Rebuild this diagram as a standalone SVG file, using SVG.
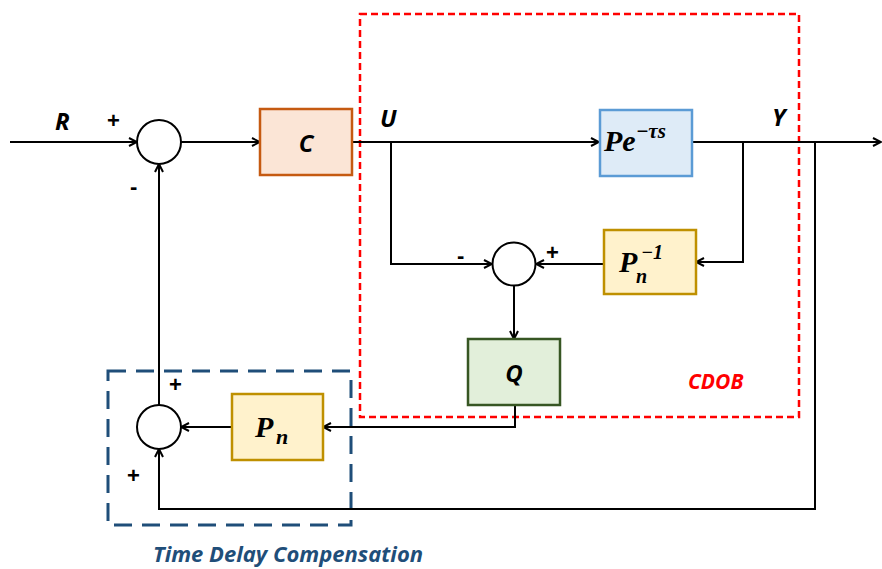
<svg xmlns="http://www.w3.org/2000/svg" width="882" height="569" viewBox="0 0 882 569">
<style>
.ln{fill:none;stroke:#000;stroke-width:2}
.sum{fill:#fff;stroke:#000;stroke-width:2}
.lbl{font-family:"Open Sans","Liberation Sans",sans-serif;font-weight:bold;font-style:italic;font-size:24px;fill:#000}
.sgn{font-family:"Liberation Sans",sans-serif;font-weight:bold;font-size:22px;fill:#000}
.math{font-family:"Liberation Serif","DejaVu Serif",serif;font-weight:bold;font-style:italic;fill:#000}
</style>
<defs>
<marker id="ar" markerWidth="10" markerHeight="10" refX="9" refY="5" orient="auto" markerUnits="userSpaceOnUse">
<path d="M1,1 L9,5 L1,9" fill="none" stroke="#000" stroke-width="2"/>
</marker>
</defs>
<g id="cdob-frame">
<rect x="360" y="14" width="439" height="403" fill="none" stroke="#ff0000" stroke-width="2.5" stroke-dasharray="7,4"/>
<text x="688" y="389" font-family="Open Sans,Liberation Sans,sans-serif" font-weight="bold" font-style="italic" font-size="21" fill="#ff0000">CDOB</text>
</g>
<g id="tdc-frame">
<rect x="108" y="371" width="243" height="154" fill="none" stroke="#1f4e79" stroke-width="3" stroke-dasharray="18,10"/>
<text x="153" y="562" font-family="Open Sans,Liberation Sans,sans-serif" font-weight="bold" font-style="italic" font-size="22" fill="#1f4e79">Time Delay Compensation</text>
</g>
<g id="connectors">
<line class="ln" x1="10" y1="142" x2="137" y2="142" marker-end="url(#ar)"/>
<line class="ln" x1="181" y1="142" x2="260" y2="142" marker-end="url(#ar)"/>
<line class="ln" x1="352" y1="142" x2="599" y2="142" marker-end="url(#ar)"/>
<line class="ln" x1="692" y1="142" x2="881" y2="142" marker-end="url(#ar)"/>
<polyline class="ln" points="391,142 391,264 492,264" marker-end="url(#ar)"/>
<polyline class="ln" points="743,142 743,262 696,262" marker-end="url(#ar)"/>
<line class="ln" x1="604" y1="264" x2="536" y2="264" marker-end="url(#ar)"/>
<line class="ln" x1="514" y1="286" x2="514" y2="339" marker-end="url(#ar)"/>
<polyline class="ln" points="515,405 515,427 323,427" marker-end="url(#ar)"/>
<line class="ln" x1="232" y1="427" x2="181" y2="427" marker-end="url(#ar)"/>
<line class="ln" x1="159" y1="405" x2="159" y2="164" marker-end="url(#ar)"/>
<polyline class="ln" points="815,142 815,509 159,509 159,449" marker-end="url(#ar)"/>
</g>
<g id="sum1">
<circle class="sum" cx="159" cy="142" r="22"/>
<text class="sgn" x="107" y="128">+</text>
<text class="sgn" x="130" y="194">-</text>
</g>
<g id="C">
<rect x="260" y="109" width="92" height="66" fill="#fbe5d6" stroke="#c55a11" stroke-width="2.5"/>
<text class="lbl" x="306" y="152" text-anchor="middle">C</text>
</g>
<g id="labels">
<text class="lbl" x="55" y="130">R</text>
<text class="lbl" x="380" y="127">U</text>
<text class="lbl" x="772" y="126">Y</text>
</g>
<g id="plant">
<rect x="600" y="110" width="92" height="66" fill="#deebf7" stroke="#5b9bd5" stroke-width="2.5"/>
<text class="math" x="604" y="151" font-size="30">Pe<tspan font-size="21" dy="-13">−τs</tspan></text>
</g>
<g id="sum2">
<circle class="sum" cx="514" cy="264" r="21.5"/>
<text class="sgn" x="457" y="263">-</text>
<text class="sgn" x="546" y="260">+</text>
</g>
<g id="Pn-inv">
<rect x="604" y="230" width="92" height="64" fill="#fff2cc" stroke="#bf9000" stroke-width="2.5"/>
<text class="math" x="619" y="272" font-size="30">P<tspan x="636" y="283" font-size="20">n</tspan><tspan x="641" y="259" font-size="20">−1</tspan></text>
</g>
<g id="Q">
<rect x="468" y="339" width="92" height="66" fill="#e2efda" stroke="#375623" stroke-width="2.5"/>
<text class="lbl" x="514" y="382" text-anchor="middle">Q</text>
</g>
<g id="Pn">
<rect x="232" y="394" width="91" height="66" fill="#fff2cc" stroke="#bf9000" stroke-width="2.5"/>
<text class="math" x="255" y="437" font-size="30">P<tspan x="276" y="444" font-size="22">n</tspan></text>
</g>
<g id="sum3">
<circle class="sum" cx="159" cy="427" r="22"/>
<text class="sgn" x="169" y="392">+</text>
<text class="sgn" x="127" y="483">+</text>
</g>
</svg>
